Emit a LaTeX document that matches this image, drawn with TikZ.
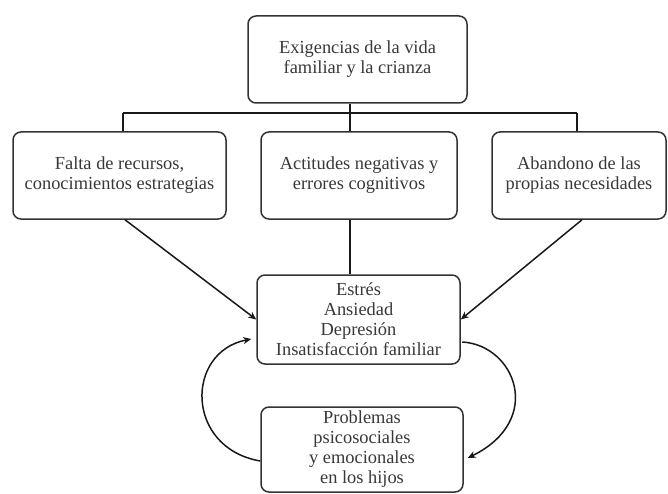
\documentclass[tikz,border=0pt]{standalone}
\usepackage{fontspec}
\setmainfont{Liberation Serif}
\usetikzlibrary{arrows.meta,calc}
\tikzset{
  boxnode/.style={draw=black!80, line width=1.5pt, rounded corners=8pt,
    align=center, inner sep=0pt, text=black!78,
    font=\fontsize{18.4}{20}\selectfont},
  link/.style={draw=black!90, line width=1.5pt},
  arr/.style={link, -{Stealth[length=8pt,width=7pt,inset=2.5pt]}}
}
\begin{document}
\begin{tikzpicture}[x=1pt,y=-1pt]
\useasboundingbox (0,0) rectangle (668,494);

% boxes
\node[boxnode, minimum width=219pt, minimum height=87pt] (top) at (357.5,59.5)
  {Exigencias de la vida\\familiar y la crianza};
\node[boxnode, minimum width=213pt, minimum height=87pt] (left) at (119.5,175.5)
  {Falta de recursos,\\conocimientos estrategias};
\node[boxnode, minimum width=196pt, minimum height=87pt] (mid) at (359,175.5)
  {Actitudes negativas y\\errores cognitivos};
\node[boxnode, minimum width=174pt, minimum height=87pt] (right) at (579,175.5)
  {Abandono de las\\propias necesidades};
\node[boxnode, minimum width=203pt, minimum height=89pt] (stress) at (358.5,319.5)
  {Estrés\\Ansiedad\\Depresión\\Insatisfacción familiar};
\node[boxnode, minimum width=202pt, minimum height=85pt] (kids) at (362,449.5)
  {Problemas\\psicosociales\\y emocionales\\en los hijos};

% distribution bus below the top box
\coordinate (busL) at (123,113);
\coordinate (busM) at (350,113);
\coordinate (busR) at (577,113);
\draw[link] (busL) -- (busR);
\draw[link] (top.south -| busM) -- (busM);
\draw[link] (busL) -- (busL |- left.north);
\draw[link] (busM) -- (busM |- mid.north);
\draw[link] (busR) -- (busR |- right.north);

% causes feeding the stress box
\draw[link] (mid.south -| busM) -- (busM |- stress.north);
\draw[arr] ($(left.south)+(5.5,0)$) -- (stress.west);
\draw[arr] ($(right.south)+(3,0)$) -- (stress.east);

% feedback loop between stress and the children's problems
\draw[arr] ($(stress.east)+(1.5,22.5)$) .. controls (515,345) and (545,420) .. ($(kids.east)+(4,8.5)$);
\draw[arr] ($(kids.west)+(0,11.5)$) .. controls (185,448) and (185,352) .. ($(stress.west)+(-5,19.5)$);
\end{tikzpicture}
\end{document}
